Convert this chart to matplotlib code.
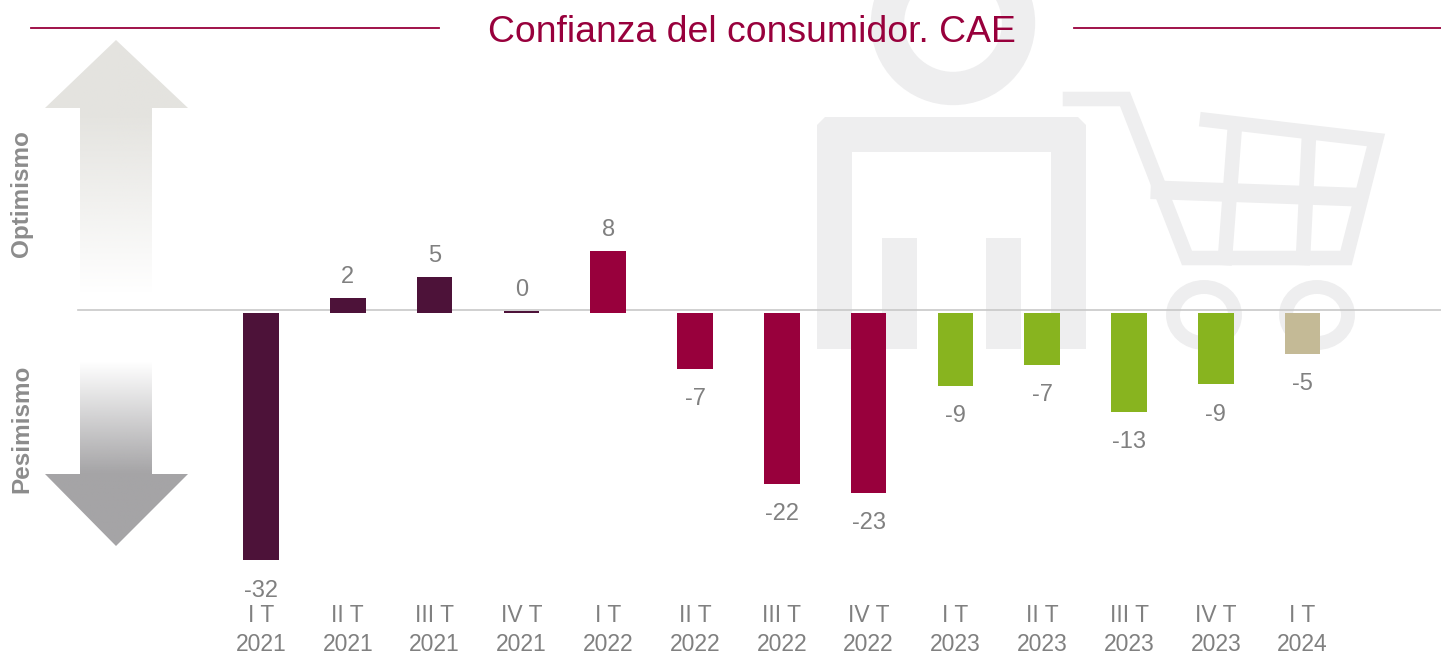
#!/bin/python3

# Confianza del consumidor, CAE (quarterly balance)

import numpy as np
import matplotlib
matplotlib.use('Agg')
import matplotlib.pyplot as plt
from matplotlib.patches import Polygon, Rectangle, Ellipse

QUARTERS = ['I T', 'II T', 'III T', 'IV T', 'I T', 'II T', 'III T', 'IV T', 'I T', 'II T', 'III T', 'IV T', 'I T']
YEARS = ['2021', '2021', '2021', '2021', '2022', '2022', '2022', '2022', '2023', '2023', '2023', '2023', '2024']
VALUES = [-32, 2, 4.7, 0.3, 8, -7.2, -22.1, -23.3, -9.4, -6.7, -12.8, -9.2, -5.3]
LABELS = ['-32', '2', '5', '0', '8', '-7', '-22', '-23', '-9', '-7', '-13', '-9', '-5']
BAR_COLORS = ['#4d1239'] * 4 + ['#98003c'] * 4 + ['#88b41f'] * 4 + ['#c4ba96']

W, H = 1441, 654
CRIMSON = '#98003c'
GREY = '#808080'
MARK = '#eeeeef'

plt.rcParams['font.family'] = ['Liberation Sans', 'DejaVu Sans']

fig = plt.figure(figsize=(W / 100, H / 100), dpi=100)

# background layer, in pixels of the picture
bg = fig.add_axes([0, 0, 1, 1], zorder=0)
bg.set_xlim(0, W)
bg.set_ylim(H, 0)
bg.axis('off')

# watermark: person
bg.add_patch(Ellipse((953, 23), 131, 131, fc='none', ec=MARK, lw=24))
bg.add_patch(Polygon([(817, 349), (817, 125), (825, 117), (1078, 117), (1086, 125), (1086, 349),
                      (1051, 349), (1051, 152), (852, 152), (852, 349)], fc=MARK, ec='none'))
bg.add_patch(Rectangle((882, 238), 35, 111, fc=MARK, ec='none'))
bg.add_patch(Rectangle((986, 238), 35, 111, fc=MARK, ec='none'))

# watermark: cart
cart_lw = 10.5
bg.plot([1070, 1125, 1187, 1346, 1376, 1207], [99, 99, 258, 258, 140, 120], color=MARK, lw=cart_lw, solid_joinstyle='miter')
bg.plot([1160, 1354], [190, 197], color=MARK, lw=cart_lw + 3)
bg.plot([1235, 1225], [125, 258], color=MARK, lw=cart_lw)
bg.plot([1309, 1303], [135, 258], color=MARK, lw=cart_lw)
for cx in [1204, 1317]:
    bg.add_patch(Ellipse((cx, 315), 62, 56, fc='none', ec=MARK, lw=10))

# title and rules
bg.plot([31, 439], [28, 28], color=CRIMSON, lw=1.3)
bg.plot([1074, W], [28, 28], color=CRIMSON, lw=1.3)
bg.text(751.5, 33, 'Confianza del consumidor. CAE', color=CRIMSON, fontsize=26.9, ha='center', va='center')

# zero line
bg.plot([78, W], [310, 310], color='#c8c8c8', lw=1.2)


def fading_arrow(points, y0, y1, color, alpha_top, alpha_bottom):
    rows = np.linspace(0, 1, 256)
    rgba = np.ones((256, 1, 4))
    rgba[:, 0, :3] = matplotlib.colors.to_rgb(color)
    rgba[:, 0, 3] = np.clip(np.interp(rows, [0, 1], [alpha_top, alpha_bottom]), 0, 1)
    img = bg.imshow(rgba, extent=(40, 195, y1, y0), aspect='auto', interpolation='bilinear')
    img.set_clip_path(Polygon(points, transform=bg.transData))


fading_arrow([(116, 40), (188, 108), (152, 108), (152, 297), (80, 297), (80, 108), (45, 108)],
             40, 297, '#e4e3df', 1.4, -0.02)
fading_arrow([(80, 359), (152, 359), (152, 474), (188, 474), (116, 546), (45, 474), (80, 474)],
             359, 546, '#a5a4a6', -0.02, 1.65)
bg.set_xlim(0, W)
bg.set_ylim(H, 0)

bg.text(22, 194, 'Optimismo', color='#8c8c8c', fontsize=17.5, fontweight='bold', rotation=90, ha='center', va='center')
bg.text(22, 429, 'Pesimismo', color='#8c8c8c', fontsize=17.5, fontweight='bold', rotation=90, ha='center', va='center')

# bars: 86.8 px per quarter, 7.72 px per point, zero at y=313 px
ax = fig.add_axes([0, 1 - 600 / H, 1, 600 / H], zorder=1)
ax.patch.set_alpha(0)
xs = np.arange(len(VALUES))
ax.bar(xs, VALUES, width=0.41, color=BAR_COLORS)
ax.set_xlim(-261 / 86.8, (W - 261) / 86.8)
ax.set_ylim(-(600 - 313) / 7.72, 313 / 7.72)

for spine in ax.spines.values():
    spine.set_visible(False)
ax.set_yticks([])
ax.set_xticks(xs)
ax.set_xticklabels([q + '\n' + y for q, y in zip(QUARTERS, YEARS)], fontsize=16.5, color=GREY, linespacing=1.3)
ax.tick_params(axis='x', length=0, pad=3)

for x, v, lab in zip(xs, VALUES, LABELS):
    ax.annotate(lab, (x, v), xytext=(0, 15 if v > 0 else -22), textcoords='offset points',
                ha='center', va='center', fontsize=17, color=GREY)

fig.savefig('out.png', dpi=100)
